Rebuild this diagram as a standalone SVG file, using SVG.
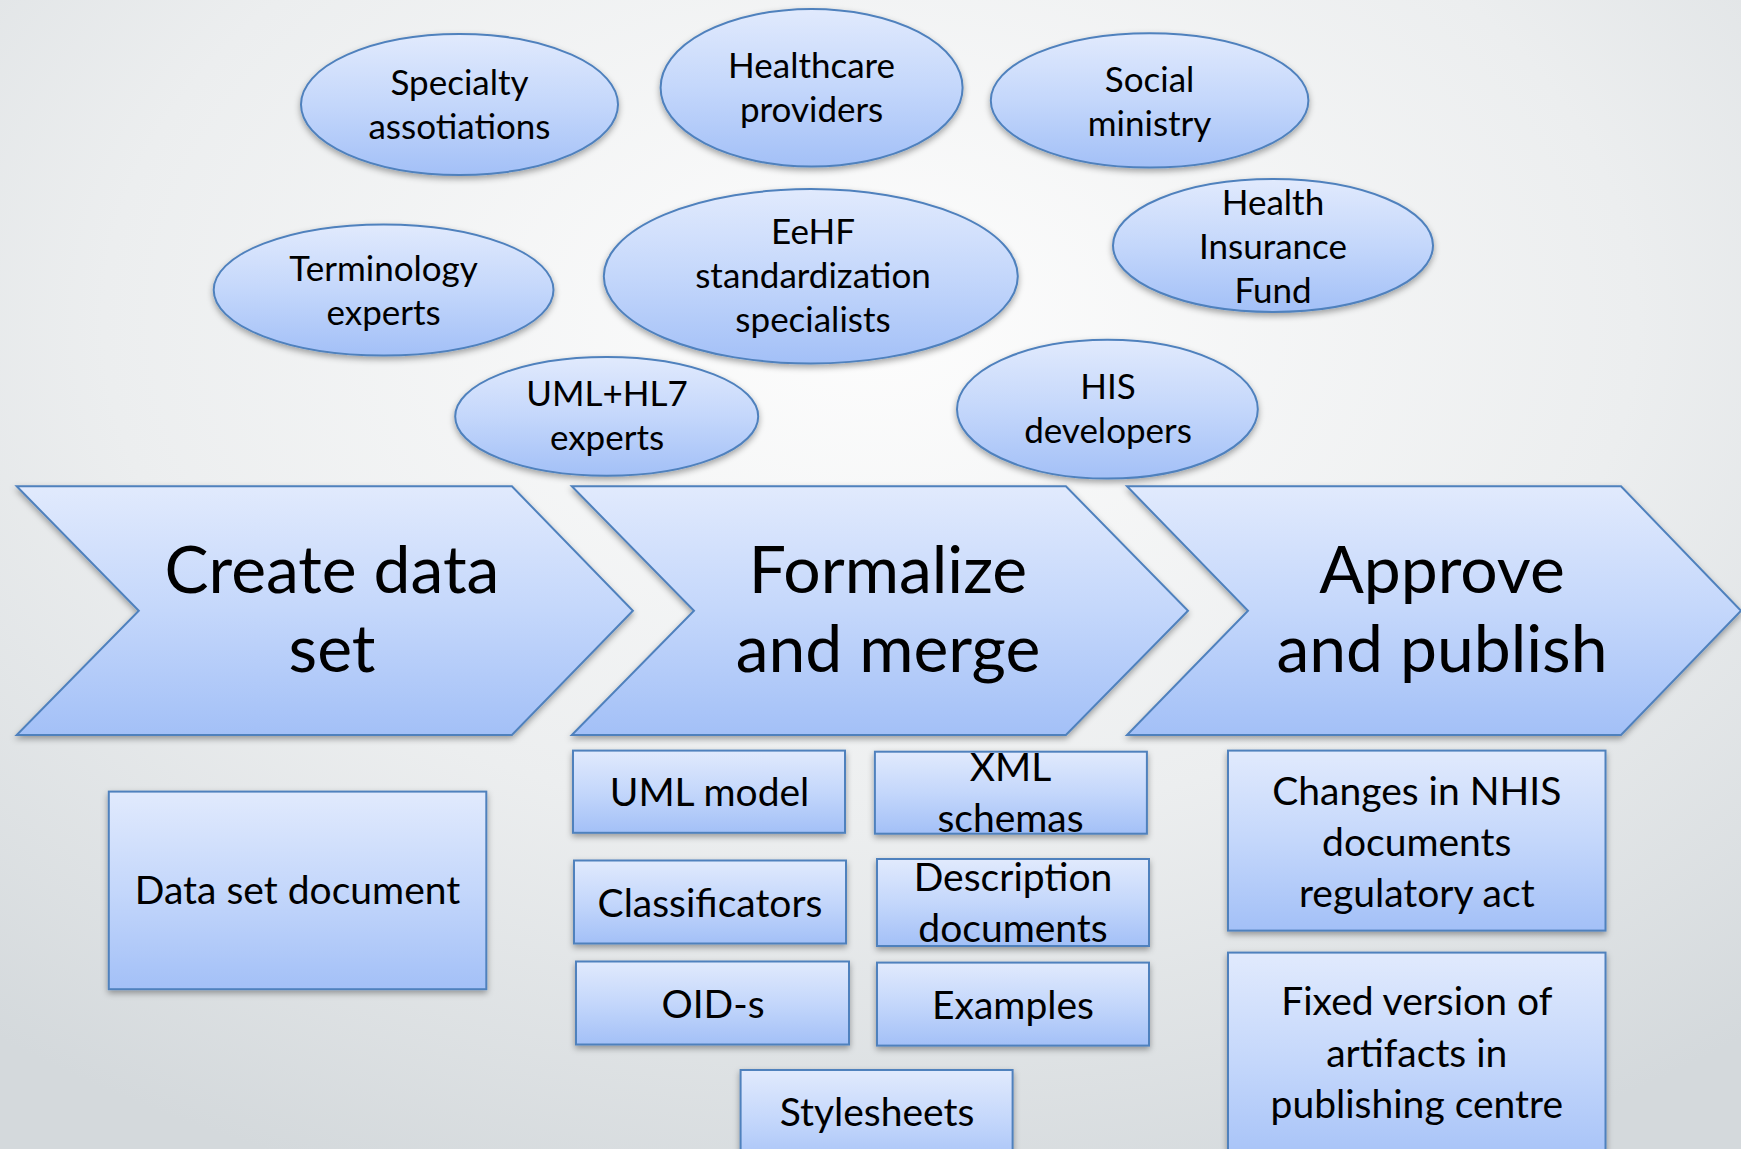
<svg xmlns="http://www.w3.org/2000/svg" width="1741" height="1149" viewBox="0 0 1741 1149">
<defs>
<radialGradient id="bg" cx="50%" cy="28%" r="80%">
<stop offset="0" stop-color="#fdfdfd"/>
<stop offset="0.55" stop-color="#eceeef"/>
<stop offset="1" stop-color="#d4d9dc"/>
</radialGradient>
<linearGradient id="fill" x1="0" y1="0" x2="0" y2="1">
<stop offset="0" stop-color="#e1eafd"/>
<stop offset="0.5" stop-color="#c4d7fb"/>
<stop offset="1" stop-color="#a3c0f7"/>
</linearGradient>
<filter id="sh" x="-10%" y="-10%" width="120%" height="130%">
<feDropShadow dx="0" dy="3" stdDeviation="3" flood-color="#000" flood-opacity="0.35"/>
</filter>
</defs>
<style>
.s{fill:url(#fill);stroke:#4f81bd;stroke-width:2;filter:url(#sh)}
text{font-family:Lato,"Open Sans","Liberation Sans",sans-serif;fill:#000;text-anchor:middle}
.e{font-size:35px}
.b{font-size:39px}
.c{font-size:66px}
</style>
<rect width="1741" height="1149" fill="url(#bg)"/>
<g id="connectors"/>
<g id="ell-specialty"><ellipse class="s" cx="459.5" cy="104.5" rx="158.5" ry="70.5"/><text class="e" x="459.5" y="95">Specialty</text><text class="e" x="459.5" y="139">assotiations</text></g>
<g id="ell-healthcare"><ellipse class="s" cx="811.6" cy="87.7" rx="151" ry="78.8"/><text class="e" x="811.6" y="78">Healthcare</text><text class="e" x="811.6" y="122">providers</text></g>
<g id="ell-social"><ellipse class="s" cx="1149.6" cy="100.4" rx="158.8" ry="67.2"/><text class="e" x="1149.6" y="92">Social</text><text class="e" x="1149.6" y="136">ministry</text></g>
<g id="ell-hif"><ellipse class="s" cx="1273" cy="245.5" rx="160" ry="66.5"/><text class="e" x="1273" y="215">Health</text><text class="e" x="1273" y="259">Insurance</text><text class="e" x="1273" y="303">Fund</text></g>
<g id="ell-terminology"><ellipse class="s" cx="383.6" cy="290" rx="169.9" ry="65.5"/><text class="e" x="383.6" y="281">Terminology</text><text class="e" x="383.6" y="325">experts</text></g>
<g id="ell-eehf"><ellipse class="s" cx="810.8" cy="276.3" rx="207" ry="87.2"/><text class="e" x="813" y="244">EeHF</text><text class="e" x="813" y="288">standardization</text><text class="e" x="813" y="332">specialists</text></g>
<g id="ell-umlhl7"><ellipse class="s" cx="606.7" cy="416.4" rx="151.5" ry="59.4"/><text class="e" x="607" y="406">UML+HL7</text><text class="e" x="607" y="450">experts</text></g>
<g id="ell-his"><ellipse class="s" cx="1107.4" cy="409.2" rx="150.4" ry="69.4"/><text class="e" x="1108" y="399">HIS</text><text class="e" x="1108" y="443">developers</text></g>
<g id="chev-create"><polygon class="s" points="16.7,486.3 511.9,486.3 632.9,610.7 511.9,735 16.7,735 138.8,610.7"/><text class="c" x="332" y="593">Create data</text><text class="c" x="332" y="672">set</text></g>
<g id="chev-formalize"><polygon class="s" points="571.8,486.3 1065.9,486.3 1188,610.7 1065.9,735 571.8,735 694,610.7"/><text class="c" x="888" y="593">Formalize</text><text class="c" x="888" y="672">and merge</text></g>
<g id="chev-approve"><polygon class="s" points="1127,486.3 1621,486.3 1741,610.7 1621,735 1127,735 1248,610.7"/><text class="c" x="1442" y="593">Approve</text><text class="c" x="1442" y="672">and publish</text></g>
<g id="box-dataset"><rect class="s" x="108.8" y="791.6" width="377.5" height="197.6"/><text class="b" x="297.5" y="904">Data set document</text></g>
<g id="box-uml"><rect class="s" x="573" y="750.6" width="272" height="82.2"/><text class="b" x="709.5" y="806">UML model</text></g>
<g id="box-xml"><rect class="s" x="874.9" y="751.7" width="272" height="82"/><text class="b" x="1010.5" y="781">XML</text><text class="b" x="1010.5" y="832">schemas</text></g>
<g id="box-class"><rect class="s" x="574" y="860.5" width="272" height="83"/><text class="b" x="710" y="917">Classificators</text></g>
<g id="box-desc"><rect class="s" x="877" y="859" width="272" height="87"/><text class="b" x="1013" y="891">Description</text><text class="b" x="1013" y="942">documents</text></g>
<g id="box-oid"><rect class="s" x="576" y="961.5" width="273" height="83"/><text class="b" x="713" y="1018">OID-s</text></g>
<g id="box-examples"><rect class="s" x="877" y="962.6" width="272" height="83"/><text class="b" x="1013" y="1019">Examples</text></g>
<g id="box-stylesheets"><rect class="s" x="740.6" y="1070" width="272" height="100"/><text class="b" x="877" y="1126">Stylesheets</text></g>
<g id="box-changes"><rect class="s" x="1228" y="750.6" width="377.5" height="180"/><text class="b" x="1416.8" y="805">Changes in NHIS</text><text class="b" x="1416.8" y="856">documents</text><text class="b" x="1416.8" y="907">regulatory act</text></g>
<g id="box-fixed"><rect class="s" x="1228" y="952.6" width="377.5" height="220"/><text class="b" x="1416.8" y="1015">Fixed version of</text><text class="b" x="1416.8" y="1067">artifacts in</text><text class="b" x="1416.8" y="1118">publishing centre</text></g>
</svg>
